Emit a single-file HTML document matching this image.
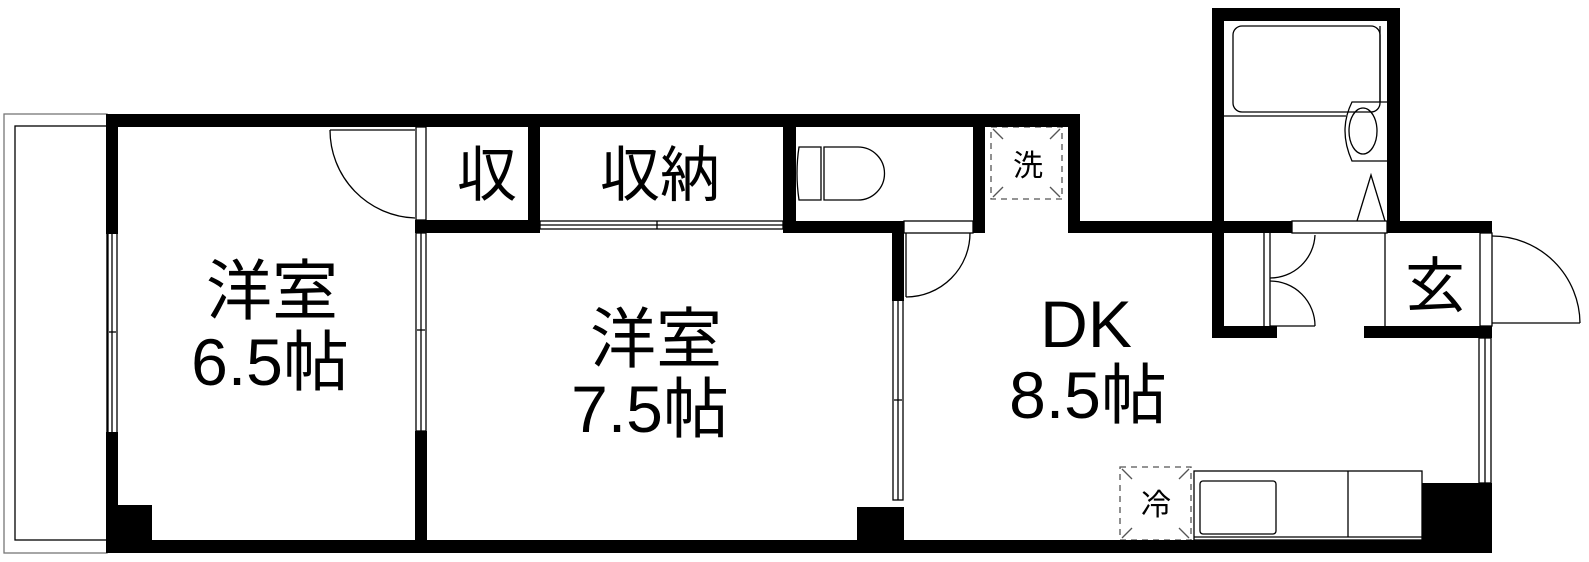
<!DOCTYPE html>
<html><head><meta charset="utf-8"><style>
html,body{margin:0;padding:0;background:#fff;}
svg{display:block}
text{font-family:"Liberation Sans","Noto Sans CJK JP",sans-serif;fill:#000;text-anchor:middle}
</style></head><body>
<svg width="1589" height="562" viewBox="0 0 1589 562" xmlns="http://www.w3.org/2000/svg">
<g fill="none" stroke="#000" stroke-width="1.3">
<rect x="4" y="114" width="103" height="439" stroke="#777"/>
<rect x="15" y="126" width="92" height="414"/>
<rect x="108" y="233" width="9" height="200"/><line x1="112" y1="233" x2="112" y2="433"/><line x1="109" y1="332" x2="116" y2="332"/>
<rect x="416" y="233" width="10" height="198"/><line x1="421" y1="233" x2="421" y2="431"/><line x1="417" y1="330" x2="425" y2="330"/>
<rect x="416" y="127" width="10" height="93"/>
<rect x="893" y="300" width="10" height="200"/><line x1="898" y1="300" x2="898" y2="500"/><line x1="894" y1="400" x2="902" y2="400"/>
<rect x="1479" y="338" width="12" height="145"/><line x1="1485" y1="338" x2="1485" y2="483"/>
<rect x="540" y="221" width="243" height="8"/><line x1="540" y1="225" x2="783" y2="225"/><line x1="657" y1="221" x2="657" y2="229"/>
<path d="M330 130 A88 88 0 0 0 415 218"/><line x1="330" y1="130" x2="415" y2="130"/>
<rect x="904" y="221" width="69" height="12"/>
<path d="M970 233 A64 64 0 0 1 906 297"/><line x1="906" y1="233" x2="906" y2="297"/>
<rect x="1292" y="221" width="95" height="12"/>
<line x1="1264" y1="233" x2="1264" y2="326"/><line x1="1270" y1="233" x2="1270" y2="326"/>
<path d="M1270 278 A45 45 0 0 0 1315 235"/><path d="M1270 281 A45 45 0 0 1 1315 326"/><line x1="1270" y1="326" x2="1315" y2="326"/>
<line x1="1385" y1="233" x2="1385" y2="326"/>
<rect x="1480" y="233" width="12" height="93"/>
<path d="M1492 236 A88 88 0 0 1 1580 323"/><line x1="1492" y1="323" x2="1580" y2="323"/>
<path d="M799 147 L821 147 L821 200 L799 200 Q795 173 799 147Z"/>
<path d="M824 147 L858 147 A26 26 0 0 1 858 200 L824 200Z"/>
<rect x="1233" y="26" width="147" height="86" rx="9"/>
<line x1="1224" y1="116" x2="1346" y2="116"/>
<line x1="1380" y1="26" x2="1380" y2="102"/>
<path d="M1387 102 L1352 102 Q1338 130 1352 161 L1387 161"/>
<ellipse cx="1363" cy="131" rx="14" ry="23"/>
<path d="M1357 221 L1371 175 L1385 221"/>
<g stroke="#555" stroke-dasharray="6,5">
<rect x="991" y="127" width="71" height="72"/>
<rect x="1120" y="467" width="71" height="73"/>
</g>
<g stroke="#555">
<line x1="993" y1="129" x2="1003" y2="139"/><line x1="1060" y1="129" x2="1050" y2="139"/><line x1="993" y1="197" x2="1003" y2="187"/><line x1="1060" y1="197" x2="1050" y2="187"/>
<line x1="1122" y1="469" x2="1132" y2="479"/><line x1="1189" y1="469" x2="1179" y2="479"/><line x1="1122" y1="538" x2="1132" y2="528"/><line x1="1189" y1="538" x2="1179" y2="528"/>
</g>
<rect x="1194" y="471" width="228" height="69"/>
<line x1="1194" y1="537" x2="1422" y2="537"/>
<rect x="1200" y="481" width="76" height="53" rx="3"/>
<line x1="1348" y1="471" x2="1348" y2="537"/>
</g>
<g fill="#000">
<rect x="106" y="114" width="974" height="13"/>
<rect x="106" y="114" width="12" height="120"/>
<rect x="106" y="432" width="12" height="121"/>
<rect x="106" y="540" width="1386" height="13"/>
<rect x="118" y="505" width="34" height="48"/>
<rect x="415" y="114" width="12" height="13"/>
<rect x="415" y="431" width="12" height="122"/>
<rect x="415" y="220" width="113" height="13"/>
<rect x="528" y="114" width="12" height="119"/>
<rect x="783" y="114" width="13" height="119"/>
<rect x="783" y="221" width="121" height="12"/>
<rect x="892" y="221" width="12" height="80"/>
<rect x="857" y="507" width="47" height="46"/>
<rect x="973" y="114" width="12" height="119"/>
<rect x="1068" y="114" width="12" height="119"/>
<rect x="1068" y="221" width="224" height="12"/>
<rect x="1212" y="8" width="188" height="13"/>
<rect x="1212" y="8" width="12" height="330"/>
<rect x="1387" y="8" width="13" height="225"/>
<rect x="1387" y="221" width="105" height="12"/>
<rect x="1212" y="326" width="65" height="12"/>
<rect x="1364" y="326" width="128" height="12"/>
<rect x="1422" y="483" width="70" height="70"/>
</g>
<text x="272" y="314" font-size="66">洋室</text>
<text x="270" y="385" font-size="66">6.5帖</text>
<text x="656" y="362" font-size="66">洋室</text>
<text x="650" y="432" font-size="66">7.5帖</text>
<text x="1086" y="347" font-size="66">DK</text>
<text x="1088" y="418" font-size="66">8.5帖</text>
<text x="487" y="196" font-size="60">収</text>
<text x="660" y="196" font-size="60">収納</text>
<text x="1435" y="307" font-size="60">玄</text>
<text x="1028" y="176" font-size="30">洗</text>
<text x="1156" y="515" font-size="30">冷</text>
</svg>
</body></html>
